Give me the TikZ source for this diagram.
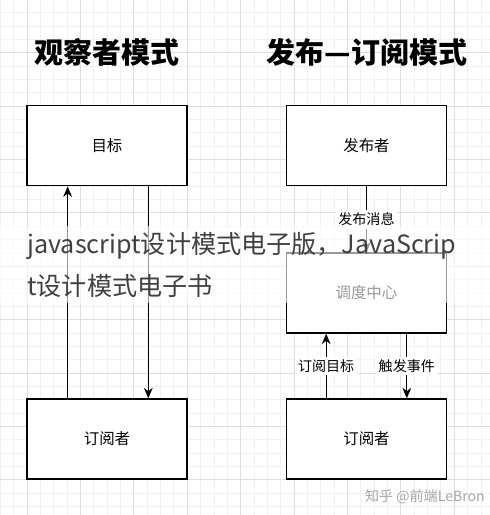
\documentclass[tikz,border=0pt]{standalone}
\usepackage{fontspec}
\setmainfont{Noto Sans CJK SC}
\usetikzlibrary{arrows.meta,calc}
\definecolor{gridminor}{HTML}{F1F1F1}
\definecolor{gridmajor}{HTML}{DEDEDE}
\newcommand\boxnode[2]{node[box] (#1) {#2}}
\newcommand\sidept[3]{($(#1.#2 west)!#3!(#1.#2 east)$)}

\begin{document}
\begin{tikzpicture}[x=0.02cm, y=-0.02cm,
    box/.style={draw, line width=0.75pt, fill=white, minimum width=3.2cm, minimum height=1.6cm,
        inner sep=0pt, font=\fontsize{8.8}{10}\selectfont},
    heading/.style={font=\bfseries\fontsize{16.5}{18}\selectfont, inner sep=0pt},
    conn/.style={line width=0.6pt, -{Stealth[length=6pt, width=5pt]}},
    lbl/.style={fill=white, inner sep=1.5pt, font=\fontsize{8}{9}\selectfont},
    ovltext/.style={anchor=west, inner sep=0pt, text=black!75, font=\fontsize{14.3}{17}\selectfont}]
    \useasboundingbox (0,0) rectangle (490,515);

    % Сетка
    \foreach \k in {-2,...,34}
        \draw[gridminor, line width=0.4pt] ({27+13.35*\k},0) -- ({27+13.35*\k},515);
    \foreach \k in {-7,...,30}
        \draw[gridminor, line width=0.4pt] (0,{106+13.35*\k}) -- (490,{106+13.35*\k});
    \foreach \k in {0,...,8}
        \draw[gridmajor, line width=0.4pt] ({27+53.4*\k},0) -- ({27+53.4*\k},515);
    \foreach \k in {-1,...,7}
        \draw[gridmajor, line width=0.4pt] (0,{106+53.4*\k}) -- (490,{106+53.4*\k});

    % Заголовки
    \node[heading] (obsTitle) at (107,52) {观察者模式};
    \node[heading] (psTitle) at (367,52) {发布—订阅模式};

    % 观察者模式
    \path (107,145.7) \boxnode{target}{目标}
          (107,439) \boxnode{obsSub}{订阅者};
    \draw[conn] \sidept{obsSub}{north}{.256} -- \sidept{target}{south}{.256};
    \draw[conn] \sidept{target}{south}{.756} -- \sidept{obsSub}{north}{.756};

    % 发布—订阅模式
    \path (366.5,145.7) \boxnode{publisher}{发布者}
          (366.5,293) \boxnode{hub}{调度中心}
          (366.5,439) \boxnode{psSub}{订阅者};
    \draw[conn] (publisher) -- node[lbl] (lblPub) {发布消息} (hub);
    \draw[conn] \sidept{psSub}{north}{.25} -- node[lbl] (lblSub) {订阅目标} \sidept{hub}{south}{.25};
    \draw[conn] \sidept{hub}{south}{.75} -- node[lbl] (lblFire) {触发事件} \sidept{psSub}{north}{.75};

    % Надпись поверх
    \fill[white, opacity=.6] (0,226) rectangle (490,303);
    \node[ovltext] (ovlA) at (27,246) {javascript设计模式电子版，JavaScrip};
    \node[ovltext] (ovlB) at (27,286) {t设计模式电子书};

    \node[anchor=east, inner sep=0pt, text=black!35, font=\fontsize{8}{9}\selectfont] (mark) at (485,497) {知乎 @前端LeBron};
\end{tikzpicture}
\end{document}
